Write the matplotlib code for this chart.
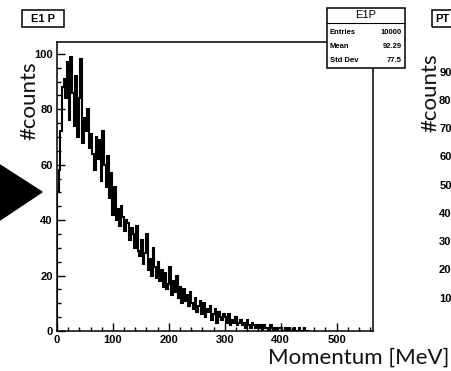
import numpy as np
import matplotlib.pyplot as plt
from matplotlib.patches import Rectangle, Polygon

# histogram contents, 3 MeV bins starting at 0
bin_width = 3
counts = [
    50, 58, 72, 88, 91, 84, 97, 76, 99, 86,
    74, 92, 70, 84, 98, 68, 77, 72, 80, 66,
    71, 64, 58, 70, 62, 69, 54, 72, 60, 52,
    63, 48, 57, 42, 52, 40, 44, 38, 45, 41,
    36, 40, 39, 33, 37, 35, 30, 38, 29, 27,
    33, 24, 28, 35, 22, 26, 20, 30, 23, 19,
    25, 18, 22, 16, 21, 15, 17, 23, 13, 18,
    14, 20, 12, 16, 10, 15, 11, 13, 9, 14,
    10, 8, 12, 7, 9, 11, 6, 10, 5, 8,
    7, 9, 4, 6, 8, 3, 7, 5, 4, 6,
    5, 3, 6, 2, 4, 3, 5, 2, 3, 4,
    2, 3, 1, 4, 2, 1, 3, 2, 1, 2,
    1, 2, 0, 2, 1, 1, 0, 2, 1, 0,
    1, 0, 1, 1, 0, 0, 1, 0, 1, 0,
    0, 1, 0, 0, 1, 0, 0, 1, 0, 0,
]
stats_rows = [('Entries', '10000'), ('Mean', '92.29'), ('Std Dev', '77.5')]
right_ticks = [10, 20, 30, 40, 50, 60, 70, 80, 90]

W, H = 451, 371
fig = plt.figure(figsize=(W / 100, H / 100), dpi=100)

def fx(px):
    return px / W

def fy(py):
    return 1 - py / H

tick_font = dict(family='Liberation Sans', weight='bold', size=8)
title_font = dict(family='Lato', weight='normal', size=16, color='#111111')

# main histogram pad
ax = fig.add_axes([fx(57), fy(331), fx(373) - fx(57), fy(42) - fy(331)])
edges = np.arange(len(counts) + 1) * bin_width
ax.stairs(counts, edges, color='black', linewidth=1.5, baseline=0)
ax.set_xlim(0, 565)
ax.set_ylim(0, 104.3)
ax.set_xticks(np.arange(0, 501, 100))
ax.set_xticks(np.arange(0, 561, 20), minor=True)
ax.set_yticks(np.arange(0, 101, 20))
ax.set_yticks(np.arange(0, 104, 5), minor=True)
ax.tick_params(which='both', direction='in', top=False, right=False, width=1)
ax.tick_params(which='major', length=6, pad=3)
ax.tick_params(which='minor', length=3)
for lab in ax.get_xticklabels() + ax.get_yticklabels():
    lab.set_fontfamily('Liberation Sans')
    lab.set_fontweight('bold')
    lab.set_fontsize(8)
for s in ax.spines.values():
    s.set_linewidth(1.1)

fig.text(fx(29), fy(101), '#counts', rotation=90, ha='center', va='center', **title_font)
fig.text(fx(449), fy(358), 'Momentum [MeV]', ha='right', va='center', **title_font)

# title box
fig.patches.append(Rectangle((fx(22), fy(27)), fx(64) - fx(22), fy(10) - fy(27),
                             transform=fig.transFigure, fill=False, edgecolor='black', linewidth=1.1))
fig.text(fx(43), fy(18.5), 'E1 P', ha='center', va='center', **tick_font)

# stats box
fig.patches.append(Rectangle((fx(327), fy(68)), fx(405) - fx(327), fy(8) - fy(68),
                             transform=fig.transFigure, facecolor='white', edgecolor='black',
                             linewidth=1.1, zorder=5))
fig.lines.append(plt.Line2D([fx(327), fx(405)], [fy(23), fy(23)], transform=fig.transFigure,
                            color='black', linewidth=0.8, zorder=6))
fig.text(fx(366), fy(15.5), 'E1P', ha='center', va='center', family='Liberation Sans',
         size=8, zorder=7)
for i, (k, v) in enumerate(stats_rows):
    y = fy(32 + 14 * i)
    fig.text(fx(330), y, k, ha='left', va='center', family='Liberation Sans', weight='bold',
             size=5.5, zorder=7)
    fig.text(fx(402), y, v, ha='right', va='center', family='Liberation Sans', weight='bold',
             size=5.5, zorder=7)

# arrow marker on the left
fig.patches.append(Polygon([(fx(0), fy(165)), (fx(42), fy(192)), (fx(0), fy(220))],
                           closed=True, transform=fig.transFigure, color='black'))

# neighbouring pad, mostly cut off
ax2 = fig.add_axes([fx(453), fy(326), 0.05, fy(42) - fy(326)])
ax2.set_ylim(0, 100.5)
ax2.set_yticks(right_ticks)
ax2.set_xticks([])
ax2.tick_params(axis='y', length=0, pad=1)
for lab in ax2.get_yticklabels():
    lab.set_fontfamily('Liberation Sans')
    lab.set_fontweight('bold')
    lab.set_fontsize(8)
fig.text(fx(430), fy(93), '#counts', rotation=90, ha='center', va='center', **title_font)
fig.patches.append(Rectangle((fx(432), fy(27)), fx(470) - fx(432), fy(10) - fy(27),
                             transform=fig.transFigure, fill=False, edgecolor='black', linewidth=1.1))
fig.text(fx(435), fy(18.5), 'PT', ha='left', va='center', **tick_font)

fig.savefig('out.png', dpi=100)
